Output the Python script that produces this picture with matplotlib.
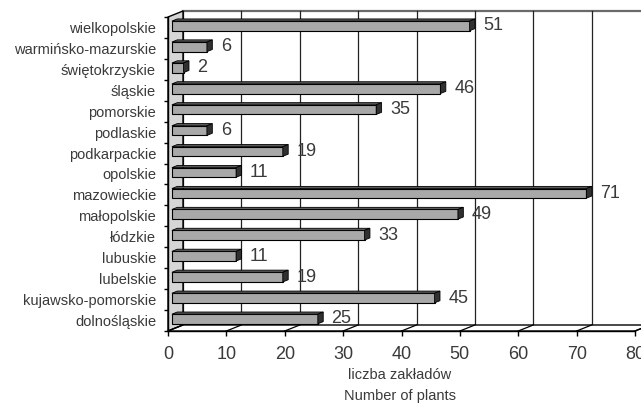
import matplotlib
matplotlib.use('Agg')
import matplotlib.pyplot as plt
from matplotlib.patches import Polygon
import numpy as np

categories = ['dolnośląskie', 'kujawsko-pomorskie', 'lubelskie', 'lubuskie', 'łódzkie',
              'małopolskie', 'mazowieckie', 'opolskie', 'podkarpackie', 'podlaskie',
              'pomorskie', 'śląskie', 'świętokrzyskie', 'warmińsko-mazurskie', 'wielkopolskie']
values = [25, 45, 19, 11, 33, 49, 71, 11, 19, 6, 35, 46, 2, 6, 51]
xticks = [0, 10, 20, 30, 40, 50, 60, 70, 80]
xlabel1 = 'liczba zakładów'
xlabel2 = 'Number of plants'

FONT = ['Liberation Sans', 'DejaVu Sans']
plt.rcParams['font.family'] = FONT

W, H = 641, 404
fig = plt.figure(figsize=(W / 100, H / 100), dpi=100)
L, R, B, T = 168, 635, 331, 17
ax = fig.add_axes([L / W, 1 - B / H, (R - L) / W, (B - T) / H])
n = len(categories)
xmax = xticks[-1]
ax.set_xlim(0, xmax)
ax.set_ylim(0, n)
ax.patch.set_visible(False)


def px_to_data(dx, dy):
    o = ax.transData.transform((0, 0))
    return ax.transData.inverted().transform(o + np.array([dx, dy]))


Dx, Dy = px_to_data(15, 6)
f0, f1 = 0.26, 0.62
TXT = '#3a3a3a'

# back wall
ax.add_patch(Polygon([(Dx, Dy), (xmax + Dx, Dy), (xmax + Dx, n + Dy), (Dx, n + Dy)],
                     closed=True, fc='white', ec='none', zorder=0.5, clip_on=False))
ax.plot([Dx, xmax + Dx], [n + Dy, n + Dy], color='#6a6a6a', lw=1.6, zorder=1, clip_on=False)
for t in xticks:
    ax.plot([t + Dx, t + Dx], [Dy, n + Dy], color='#222222', lw=0.9, zorder=1, clip_on=False)

# left wall
ax.add_patch(Polygon([(0, 0), (0, n), (Dx, n + Dy), (Dx, Dy)], closed=True,
                     fc='#d6d6d6', ec='black', lw=1, zorder=1.5, clip_on=False))
# floor
ax.add_patch(Polygon([(0, 0), (xmax, 0), (xmax + Dx, Dy), (Dx, Dy)], closed=True,
                     fc='white', ec='black', lw=1, zorder=1.5, clip_on=False))
for t in xticks:
    ax.plot([t, t + Dx], [0, Dy], color='black', lw=0.9, zorder=1.6, clip_on=False)

# bars
h = 0.46
idx = np.arange(n) + 0.5
ax.barh(idx + f0 * Dy, values, height=h, left=f0 * Dx, color='#a8a8a8',
        edgecolor='black', linewidth=0.8, zorder=4, clip_on=False)
ddx, ddy = (f1 - f0) * Dx, (f1 - f0) * Dy
for y, v in zip(idx, values):
    x0 = f0 * Dx
    yb = y + f0 * Dy - h / 2
    yt = y + f0 * Dy + h / 2
    ax.add_patch(Polygon([(x0, yt), (x0 + v, yt), (x0 + v + ddx, yt + ddy), (x0 + ddx, yt + ddy)],
                         closed=True, fc='#5a5a5a', ec='black', lw=0.6, zorder=4.5, clip_on=False))
    ax.add_patch(Polygon([(x0 + v, yb), (x0 + v, yt), (x0 + v + ddx, yt + ddy), (x0 + v + ddx, yb + ddy)],
                         closed=True, fc='#303030', ec='black', lw=0.6, zorder=4.5, clip_on=False))
    ax.annotate(str(v), xy=(x0 + v + ddx, y + f0 * Dy), xytext=(6, 0), textcoords='offset points',
                ha='left', va='center', fontsize=13, color=TXT, zorder=6)

# axes styling
for s in ['top', 'right']:
    ax.spines[s].set_visible(False)
for s in ['left', 'bottom']:
    ax.spines[s].set_color('black')
    ax.spines[s].set_linewidth(1)
    ax.spines[s].set_zorder(3)
ax.set_xticks(xticks)
ax.tick_params(axis='x', length=3.6, width=1, direction='out', pad=7, labelsize=13,
               labelcolor=TXT, color='black')
ax.set_yticks(idx)
ax.set_yticklabels(categories)
ax.set_yticks(np.arange(n + 1), minor=True)
ax.tick_params(axis='y', which='major', length=0, pad=8.6, labelsize=10.5, labelcolor=TXT)
ax.tick_params(axis='y', which='minor', length=2.9, width=1, color='black')

fig.text(400 / W, 1 - 375 / H, xlabel1, ha='center', va='center', fontsize=10.5, color=TXT)
fig.text(400 / W, 1 - 396 / H, xlabel2, ha='center', va='center', fontsize=10.5, color=TXT)

fig.savefig('out.png', dpi=100)
